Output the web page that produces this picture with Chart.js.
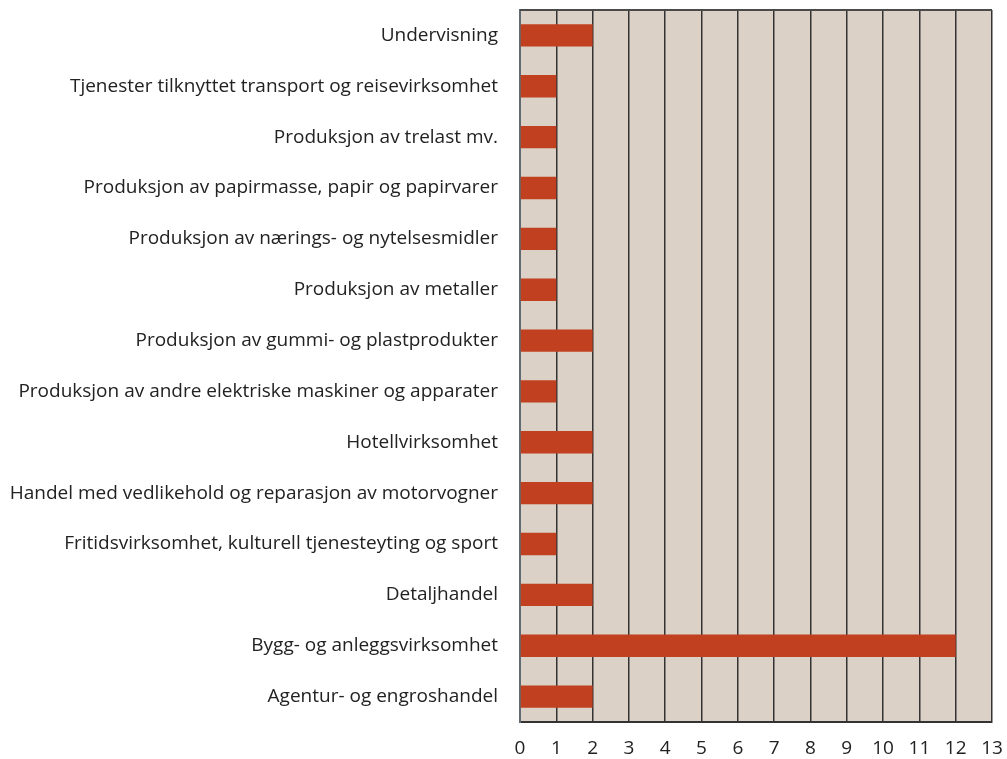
<!DOCTYPE html>
<html>
<head>
<meta charset="utf-8">
<script src="https://cdn.jsdelivr.net/npm/chart.js@4"></script>
<style>
  html, body { margin: 0; padding: 0; background: #fff; }
  #wrap { width: 1007px; height: 759px; }
</style>
</head>
<body>
<div id="wrap"><canvas id="chart"></canvas></div>
<script>
const categories = [
  "Undervisning",
  "Tjenester tilknyttet transport og reisevirksomhet",
  "Produksjon av trelast mv.",
  "Produksjon av papirmasse, papir og papirvarer",
  "Produksjon av nærings- og nytelsesmidler",
  "Produksjon av metaller",
  "Produksjon av gummi- og plastprodukter",
  "Produksjon av andre elektriske maskiner og apparater",
  "Hotellvirksomhet",
  "Handel med vedlikehold og reparasjon av motorvogner",
  "Fritidsvirksomhet, kulturell tjenesteyting og sport",
  "Detaljhandel",
  "Bygg- og anleggsvirksomhet",
  "Agentur- og engroshandel"
]
const values = [2, 1, 1, 1, 1, 1, 2, 1, 2, 2, 1, 2, 12, 2]
const xMin = 0
const xMax = 13

// plot background + top border
const plotFrame = {
  id: "plotFrame",
  beforeDraw(chart) {
    const { ctx, chartArea: a } = chart
    ctx.save()
    ctx.fillStyle = "#dbd1c6"
    ctx.fillRect(a.left, a.top, a.right - a.left, a.bottom - a.top)
    ctx.restore()
  },
  afterDraw(chart) {
    const { ctx, chartArea: a } = chart
    ctx.save()
    ctx.strokeStyle = "#4a4a4a"
    ctx.lineWidth = 2
    ctx.beginPath()
    ctx.moveTo(a.left, a.top)
    ctx.lineTo(a.right, a.top)
    ctx.stroke()
    ctx.restore()
  }
}

const ctx = document.getElementById("chart")
new Chart(ctx, {
  type: "bar",
  data: {
    labels: categories,
    datasets: [{
      data: values,
      backgroundColor: "#c0401f",
      borderWidth: 0,
      barPercentage: 0.44,
      categoryPercentage: 1
    }]
  },
  plugins: [plotFrame],
  options: {
    indexAxis: "y",
    responsive: true,
    maintainAspectRatio: false,
    animation: false,
    layout: { padding: { top: 10, right: 15, left: 0, bottom: 0 } },
    plugins: {
      legend: { display: false },
      tooltip: { enabled: false }
    },
    scales: {
      x: {
        min: xMin,
        max: xMax,
        afterFit(scale) {
          scale.height = 37
          scale.paddingLeft = 0
          scale.paddingRight = 0
        },
        ticks: {
          stepSize: 1,
          color: "#222",
          padding: 15,
          font: { family: "Open Sans", size: 19 }
        },
        grid: {
          color: "#333",
          lineWidth: 1.5,
          drawTicks: false
        },
        border: { color: "#333", width: 2 }
      },
      y: {
        afterFit(scale) {
          scale.width = 520
          scale.paddingTop = 0
          scale.paddingBottom = 0
        },
        ticks: {
          color: "#222",
          padding: 22,
          font: { family: "Open Sans", size: 19 }
        },
        grid: { display: false, drawTicks: false },
        border: { color: "#5f6a72", width: 2 }
      }
    }
  }
})
</script>
</body>
</html>
